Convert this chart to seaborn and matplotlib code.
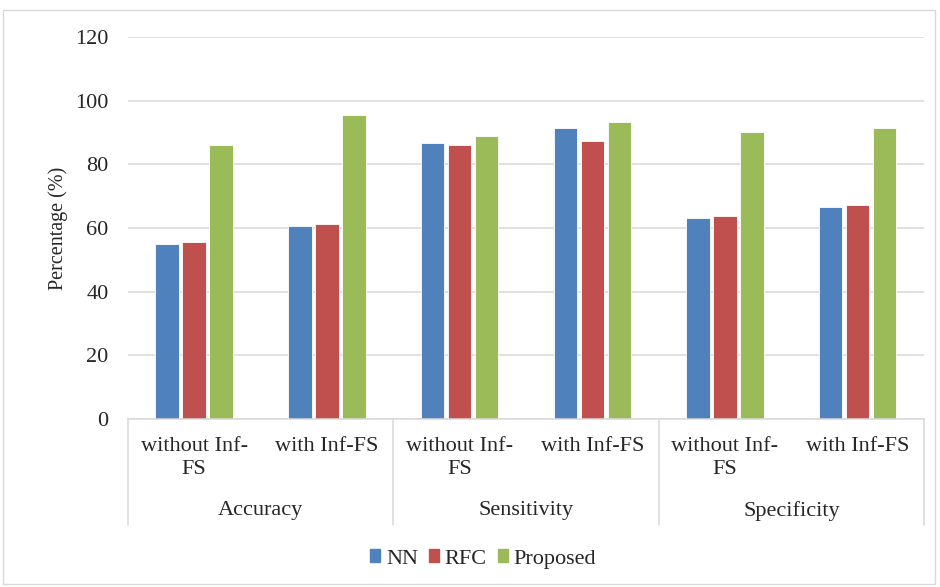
import pandas as pd
import matplotlib.pyplot as plt
import seaborn as sns
from matplotlib.transforms import blended_transform_factory

# Values
metrics = ["Accuracy", "Sensitivity", "Specificity"]
settings = ["without Inf-FS", "with Inf-FS"]
setting_labels = ["without Inf-\nFS", "with Inf-FS"]
methods = ["NN", "RFC", "Proposed"]
nn_vals = [55.0, 60.7, 86.8, 91.3, 63.2, 66.7]
rfc_vals = [55.5, 61.4, 86.1, 87.2, 63.7, 67.2]
proposed_vals = [86.1, 95.5, 89.0, 93.2, 90.3, 91.3]
colors = ["#4F81BD", "#C0504D", "#9BBB59"]

# Build long table
keys = [f"{m}|{s}" for m in metrics for s in settings]
rows = []
for meth, vals in zip(methods, [nn_vals, rfc_vals, proposed_vals]):
    for k, v in zip(keys, vals):
        rows.append({"key": k, "method": meth, "value": v})
df = pd.DataFrame(rows)

sns.set_style("white")
plt.rcParams["font.family"] = ["Liberation Serif", "DejaVu Serif"]

fig = plt.figure(figsize=(9.4, 5.87), dpi=100)
ax = fig.add_axes([0.136, 0.286, 0.847, 0.651])

sns.barplot(data=df, x="key", y="value", hue="method", order=keys,
            hue_order=methods, palette=colors, saturation=1, width=0.61,
            gap=0.13, edgecolor="white", linewidth=0.6, ax=ax, legend=False)

ax.set_ylim(0, 120)
ax.set_xlim(-0.5, len(keys) - 0.5)
ax.set_yticks(range(0, 121, 20))
ax.yaxis.grid(True, color="#D9D9D9", linewidth=1.1)
ax.set_axisbelow(True)
for side in ["left", "right", "top"]:
    ax.spines[side].set_visible(False)
ax.spines["bottom"].set_color("#D9D9D9")
ax.spines["bottom"].set_linewidth(1.1)

ax.set_xticks(range(len(keys)))
ax.set_xticklabels(setting_labels * len(metrics), fontsize=16, linespacing=1.3)
ax.tick_params(axis="x", length=0, pad=13)
ax.tick_params(axis="y", length=0, labelsize=16, pad=14)
ax.set_xlabel("")
ax.set_ylabel("Percentage (%)", fontsize=14.5, labelpad=5)

# Multi-level category axis: separators and metric labels
trans = blended_transform_factory(ax.transData, ax.transAxes)
for b in [-0.5, 1.5, 3.5, 5.5]:
    ax.plot([b, b], [0, -0.277], transform=trans, color="#D9D9D9",
            linewidth=1.1, clip_on=False)
for i, m in enumerate(metrics):
    ax.text(2 * i + 0.5, -0.24, m, transform=trans, ha="center",
            va="center", fontsize=16)

# Legend
handles = [plt.Rectangle((0, 0), 1, 1, color=c) for c in colors]
fig.legend(handles, methods, loc="center", bbox_to_anchor=(0.514, 0.048),
           ncol=3, frameon=False, fontsize=16, handlelength=0.45,
           handleheight=0.55, handletextpad=0.25, columnspacing=0.5)

# Light chart border
fig.patches.append(plt.Rectangle((0.003, 0.005), 0.992, 0.978,
                                 transform=fig.transFigure, fill=False,
                                 edgecolor="#D9D9D9", linewidth=1))

fig.savefig("out.png", dpi=100)
